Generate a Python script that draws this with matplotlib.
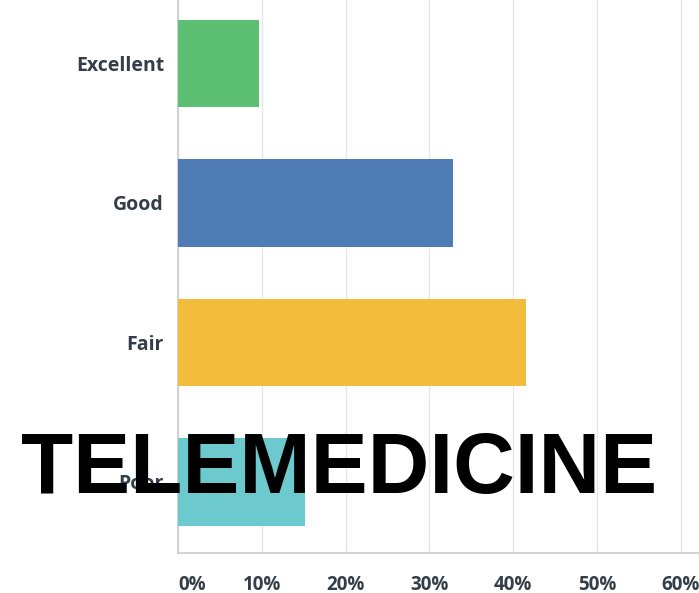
import matplotlib
matplotlib.use("Agg")
import matplotlib.pyplot as plt

categories = ["Excellent", "Good", "Fair", "Poor"]
values = [9.7, 32.8, 41.5, 15.1]
colors = ["#5dbf71", "#4f7cb4", "#f2bc3d", "#6ccacf"]
xticks = [0, 10, 20, 30, 40, 50, 60]
xtick_labels = ["0%", "10%", "20%", "30%", "40%", "50%", "60%"]
overlay_text = "TELEMEDICINE"

W, H = 699, 593
fig = plt.figure(figsize=(W / 100, H / 100), dpi=100)
left, right, top, bottom = 178, 699, 0, 553
ax = fig.add_axes([left / W, 1 - bottom / H, (right - left) / W, (bottom - top) / H])

ypos = list(range(len(categories)))
ax.barh(ypos, values, height=0.624, color=colors, zorder=3)
ax.set_xlim(0, (right - left) / 83.8 * 10)
ax.set_ylim(3.509, -0.455)

ax.set_yticks(ypos)
ax.set_yticklabels(categories, fontfamily="Open Sans", fontweight="bold",
                   fontsize=14, color="#333e48")
ax.set_xticks(xticks)
ax.set_xticklabels(xtick_labels, fontfamily="Open Sans", fontweight="bold",
                   fontsize=13.5, color="#333e48")
ax.tick_params(axis="y", length=0, pad=10)
ax.tick_params(axis="x", length=0, pad=15.5)
ax.get_xticklabels()[0].set_horizontalalignment("left")

ax.grid(axis="x", color="#e6e6e6", linewidth=1.0, zorder=0)
ax.set_axisbelow(True)
for s in ["top", "right"]:
    ax.spines[s].set_visible(False)
ax.spines["left"].set_color("#d2d2d2")
ax.spines["left"].set_linewidth(1.5)
ax.spines["bottom"].set_color("#d2d2d2")
ax.spines["bottom"].set_linewidth(1.5)

fig.text(339.5 / W, 1 - 493 / H, overlay_text, fontfamily="Liberation Sans",
         fontweight="bold", fontsize=61.5, color="black",
         ha="center", va="baseline", zorder=10)

fig.savefig("out.png", dpi=100)
